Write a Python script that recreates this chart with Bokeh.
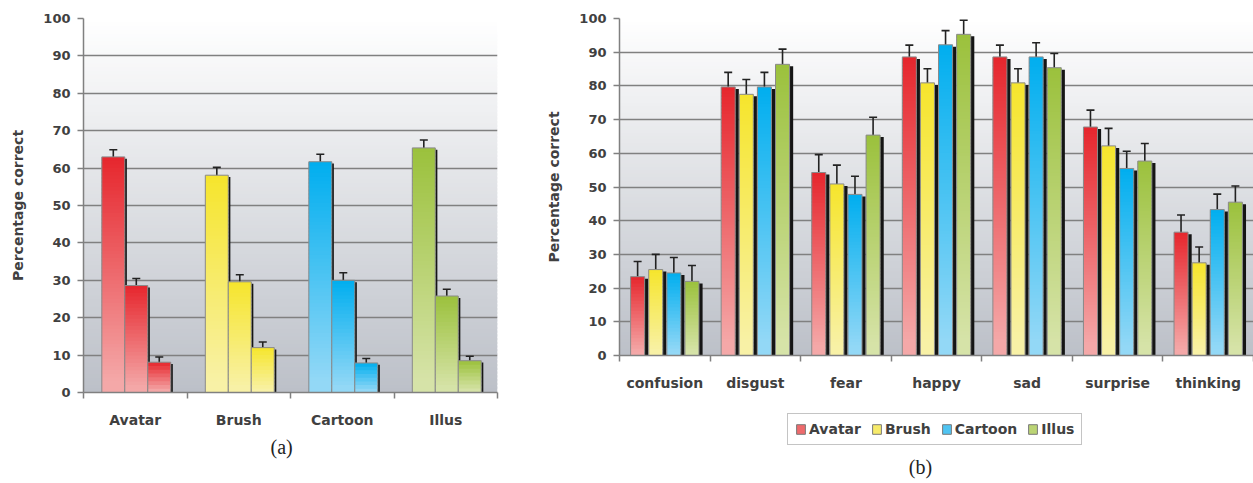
import numpy as np
from bokeh.plotting import figure
from bokeh.layouts import row, column
from bokeh.models import (Range1d, FixedTicker, ColumnDataSource, Whisker, TeeHead,
                          Legend, LegendItem, Title, Label)
from bokeh.embed import file_html
from bokeh.resources import INLINE

# ---------------- data: panel (a) ----------------
styles_a = ["Avatar", "Brush", "Cartoon", "Illus"]
a_bar1 = [63.0, 58.1, 61.7, 65.4]
a_bar2 = [28.6, 29.6, 30.0, 25.8]
a_bar3 = [8.1, 12.0, 7.9, 8.5]
a_err1 = [1.9, 2.1, 2.0, 2.1]
a_err2 = [1.9, 1.9, 2.0, 1.8]
a_err3 = [1.4, 1.5, 1.2, 1.2]

# ---------------- data: panel (b) ----------------
emotions = ["confusion", "disgust", "fear", "happy", "sad", "surprise", "thinking"]
series_b = ["Avatar", "Brush", "Cartoon", "Illus"]
b_avatar = [23.4, 79.7, 54.3, 88.6, 88.6, 67.8, 36.6]
b_brush = [25.5, 77.5, 50.9, 80.9, 80.9, 62.2, 27.5]
b_cartoon = [24.5, 79.7, 47.8, 92.2, 88.6, 55.5, 43.3]
b_illus = [22.0, 86.4, 65.4, 95.3, 85.4, 57.7, 45.5]
b_avatar_err = [4.5, 4.3, 5.3, 3.5, 3.5, 5.0, 5.1]
b_brush_err = [4.5, 4.4, 5.6, 4.2, 4.2, 5.2, 4.7]
b_cartoon_err = [4.6, 4.3, 5.4, 4.2, 4.2, 5.1, 4.6]
b_illus_err = [4.7, 4.5, 5.3, 4.2, 4.2, 5.2, 4.8]

y_ticks = list(range(0, 101, 10))

# ---------------- style ----------------
FONT = "DejaVu Sans"
TXT = "#404040"
GRID = "#808080"
COLORS = {
    "Avatar": ("#E6262D", "#F4A8A8"),
    "Brush": ("#F6E52C", "#F8F1A6"),
    "Cartoon": ("#00AEEF", "#93D8F6"),
    "Illus": ("#9BC13C", "#D6E3A8"),
}
MID = {"Avatar": "#EE6A6C", "Brush": "#F7EB6A", "Cartoon": "#4FC4F2", "Illus": "#BBD474"}
BG_TOP = "#FFFFFF"
BG_BOT = "#BCC0C8"
NAN = float("nan")


def h2r(h):
    return tuple(int(h[i:i + 2], 16) for i in (1, 3, 5))


def mix(c1, c2, t):
    a, b = h2r(c1), h2r(c2)
    return "#%02x%02x%02x" % tuple(int(round(x + (y - x) * t)) for x, y in zip(a, b))


def add_background(p, x0, x1):
    n = 100
    edges = np.linspace(0, 100, n + 1)
    bottoms = [float(v) for v in edges[:-1]]
    tops = [float(v) + 0.6 for v in edges[1:]]
    cols = [mix(BG_BOT, BG_TOP, (b + 0.5) / 100.0) for b in bottoms]
    p.quad(left=[x0] * n, right=[x1] * n, bottom=bottoms, top=tops, fill_color=cols,
           line_color=None, level="image")


def add_bars(p, xs, vals, series, width, sdx, sdy):
    top_c, bot_c = COLORS[series]
    p.vbar(x=[x + sdx for x in xs], top=[v - sdy for v in vals], width=width,
           fill_color="#151515", line_color=None)
    L, R, B, T, C = [], [], [], [], []
    for x, v in zip(xs, vals):
        nsl = max(6, int(round(v)))
        for k in range(nsl):
            b = v * k / nsl
            t = v * (k + 1) / nsl
            frac = 1.0 - (k + 0.5) / nsl
            L.append(x - width / 2)
            R.append(x + width / 2)
            B.append(b)
            T.append(min(v, t + 0.6))
            C.append(mix(top_c, bot_c, min(1.0, frac * 1.05)))
    p.quad(left=L, right=R, bottom=B, top=T, fill_color=C, line_color=None)
    p.vbar(x=xs, top=vals, width=width, fill_alpha=0, line_color="#8a8a8a", line_width=1)


def add_err(p, xs, vals, errs, size):
    src = ColumnDataSource(dict(x=xs, upper=[v + e for v, e in zip(vals, errs)],
                                lower=[v - e for v, e in zip(vals, errs)]))
    w = Whisker(source=src, base="x", upper="upper", lower="lower",
                line_color="#222222", line_width=1.6,
                upper_head=TeeHead(size=size, line_color="#222222", line_width=1.6),
                lower_head=TeeHead(size=size, line_color="#222222", line_width=1.6))
    p.add_layout(w)


def make_fig(fw, fh, n, labels, bl, br, bb):
    p = figure(frame_width=fw, frame_height=fh, x_range=Range1d(-0.5, n - 0.5),
               y_range=Range1d(0, 100),
               output_backend="svg", toolbar_location=None,
               min_border_left=bl, min_border_right=br, min_border_top=18, min_border_bottom=bb)
    p.outline_line_color = None
    p.background_fill_color = "white"
    p.border_fill_color = "white"
    p.xgrid.visible = False
    p.ygrid.grid_line_color = GRID
    p.ygrid.grid_line_width = 1.5
    p.yaxis.ticker = FixedTicker(ticks=y_ticks)
    p.yaxis.major_tick_out = 6
    p.yaxis.major_tick_in = 0
    p.yaxis.minor_tick_out = 0
    p.yaxis.minor_tick_in = 0
    p.yaxis.major_label_standoff = 7
    p.yaxis.axis_label = "Percentage correct"
    p.yaxis.axis_label_standoff = 14
    p.xaxis.ticker = FixedTicker(ticks=list(range(n)), minor_ticks=[i - 0.5 for i in range(n + 1)])
    p.xaxis.major_label_overrides = {i: lab for i, lab in enumerate(labels)}
    p.xaxis.major_tick_out = 0
    p.xaxis.major_tick_in = 0
    p.xaxis.minor_tick_out = 6
    p.xaxis.minor_tick_in = 0
    p.xaxis.major_label_standoff = 13
    for ax in (p.xaxis, p.yaxis):
        ax.axis_line_color = GRID
        ax.axis_line_width = 1.5
        ax.major_tick_line_color = GRID
        ax.major_tick_line_width = 1.5
        ax.minor_tick_line_color = GRID
        ax.minor_tick_line_width = 1.5
        ax.major_label_text_font = FONT
        ax.major_label_text_font_style = "bold"
        ax.major_label_text_color = TXT
        ax.axis_label_text_font = FONT
        ax.axis_label_text_font_style = "bold"
        ax.axis_label_text_color = TXT
        ax.axis_label_text_font_size = "14px"
    p.yaxis.major_label_text_font_size = "13px"
    p.xaxis.major_label_text_font_size = "14px"
    add_background(p, -0.5, n - 0.5)
    return p


# ---------------- panel (a) ----------------
pa = make_fig(414, 374, 4, styles_a, 83, 32, 91)
wa = 0.222
for j, (vals, errs) in enumerate([(a_bar1, a_err1), (a_bar2, a_err2), (a_bar3, a_err3)]):
    for i, s in enumerate(styles_a):
        x = i + (j - 1) * wa + 0.01
        add_bars(pa, [x], [vals[i]], s, wa, 0.02, 0.5)
        add_err(pa, [x], [vals[i]], [errs[i]], 8)
pa.add_layout(Title(text="(a)", align="left", offset=187, standoff=6,
                    text_font="Liberation Serif", text_font_size="20px",
                    text_font_style="normal", text_color="#222222"), "below")

# ---------------- panel (b) ----------------
pb = make_fig(634, 337, 7, emotions, 90, 0, 45)
wb = 0.155
slot = 0.2
b_vals = [b_avatar, b_brush, b_cartoon, b_illus]
b_errs = [b_avatar_err, b_brush_err, b_cartoon_err, b_illus_err]
for j, s in enumerate(series_b):
    xs = [i + (j - 1.5) * slot for i in range(len(emotions))]
    add_bars(pb, xs, b_vals[j], s, wb, 0.04, 0.6)
    add_err(pb, xs, b_vals[j], b_errs[j], 8)

# ---------------- legend strip under panel (b) ----------------
pl = figure(frame_width=724, frame_height=83, x_range=Range1d(0, 724), y_range=Range1d(0, 83),
            output_backend="svg", toolbar_location=None, x_axis_location=None,
            y_axis_location=None, min_border=0)
pl.outline_line_color = None
pl.grid.visible = False
pl.background_fill_color = "white"
pl.border_fill_color = "white"
items = []
for s in series_b:
    # legend swatch proxy (no visible mark)
    r = pl.quad(left=[NAN], right=[NAN], top=[NAN], bottom=[NAN],
                fill_color=MID[s], line_color="#7a7a7a")
    items.append(LegendItem(label=s, renderers=[r]))
leg = Legend(items=items, orientation="horizontal", location=(258, 38),
             label_text_font=FONT, label_text_font_style="bold", label_text_font_size="14px",
             label_text_color=TXT, glyph_width=11, glyph_height=12, label_standoff=3,
             spacing=10, padding=7, margin=0, border_line_color="#8a8a8a",
             border_line_width=1, background_fill_color="white", label_height=14)
pl.add_layout(leg)
pl.add_layout(Label(x=301, y=17, x_units="screen", y_units="screen", text="(b)",
                    text_align="center", text_baseline="middle",
                    text_font="Liberation Serif", text_font_size="20px", text_color="#222222"))

layout = row(pa, column(pb, pl))
open("out.html", "w").write(file_html(layout, INLINE))
